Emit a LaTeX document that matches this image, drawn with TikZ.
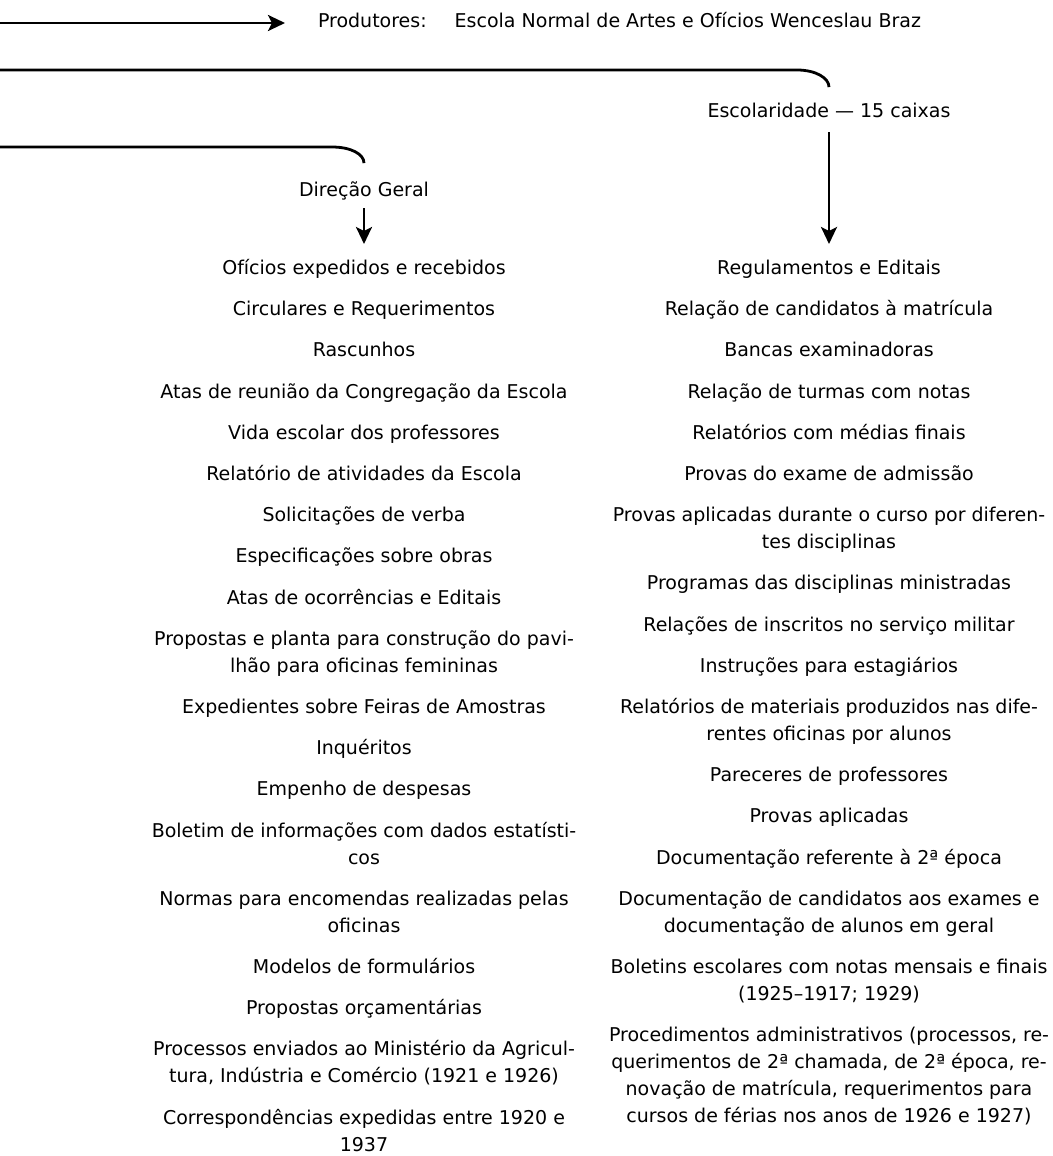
\documentclass[tikz,border=0pt]{standalone}
\usepackage{fontspec}
\setmainfont{DejaVu Sans}
\usetikzlibrary{arrows.meta,positioning}

\begin{document}
\begin{tikzpicture}[x=1pt,y=-1pt,
  conn/.style={line width=2.8pt,draw=black},
  arr/.style={conn,-{Stealth[length=17pt,width=16pt,inset=4pt]}},
  txt/.style={inner sep=0pt,outer sep=0pt,text=black,font=\fontsize{19}{27}\selectfont},
  item/.style={txt,anchor=north,align=center},
  head/.style={txt,anchor=base},
  gap/.style={below=14.2pt of #1},
]
\useasboundingbox (0,0) rectangle (1052,1156);

% headers
\node[head,anchor=base west] (prod) at (318,28)
  {\strut Produtores:\hspace{28pt}Escola Normal de Artes e Ofícios Wenceslau Braz};
\node[head] (esc) at (829,117) {\strut Escolaridade — 15 caixas};
\node[head] (dir) at (364,196.5) {\strut Direção Geral};

% Direção Geral column
\node[item] (l1) at (364,255.5) {\strut Ofícios expedidos e recebidos};
\node[item,gap=l1] (l2) {\strut Circulares e Requerimentos};
\node[item,gap=l2] (l3) {\strut Rascunhos};
\node[item,gap=l3] (l4) {\strut Atas de reunião da Congregação da Escola};
\node[item,gap=l4] (l5) {\strut Vida escolar dos professores};
\node[item,gap=l5] (l6) {\strut Relatório de atividades da Escola};
\node[item,gap=l6] (l7) {\strut Solicitações de verba};
\node[item,gap=l7] (l8) {\strut Especificações sobre obras};
\node[item,gap=l8] (l9) {\strut Atas de ocorrências e Editais};
\node[item,gap=l9] (l10) {\strut Propostas e planta para construção do pavi-\\\strut lhão para oficinas femininas};
\node[item,gap=l10] (l11) {\strut Expedientes sobre Feiras de Amostras};
\node[item,gap=l11] (l12) {\strut Inquéritos};
\node[item,gap=l12] (l13) {\strut Empenho de despesas};
\node[item,gap=l13] (l14) {\strut Boletim de informações com dados estatísti-\\\strut cos};
\node[item,gap=l14] (l15) {\strut Normas para encomendas realizadas pelas\\\strut oficinas};
\node[item,gap=l15] (l16) {\strut Modelos de formulários};
\node[item,gap=l16] (l17) {\strut Propostas orçamentárias};
\node[item,gap=l17] (l18) {\strut Processos enviados ao Ministério da Agricul-\\\strut tura, Indústria e Comércio (1921 e 1926)};
\node[item,gap=l18] (l19) {\strut Correspondências expedidas entre 1920 e\\1937};

% Escolaridade column
\node[item] (r1) at (829,255.5) {\strut Regulamentos e Editais};
\node[item,gap=r1] (r2) {\strut Relação de candidatos à matrícula};
\node[item,gap=r2] (r3) {\strut Bancas examinadoras};
\node[item,gap=r3] (r4) {\strut Relação de turmas com notas};
\node[item,gap=r4] (r5) {\strut Relatórios com médias finais};
\node[item,gap=r5] (r6) {\strut Provas do exame de admissão};
\node[item,gap=r6] (r7) {\strut Provas aplicadas durante o curso por diferen-\\\strut tes disciplinas};
\node[item,gap=r7] (r8) {\strut Programas das disciplinas ministradas};
\node[item,gap=r8] (r9) {\strut Relações de inscritos no serviço militar};
\node[item,gap=r9] (r10) {\strut Instruções para estagiários};
\node[item,gap=r10] (r11) {\strut Relatórios de materiais produzidos nas dife-\\\strut rentes oficinas por alunos};
\node[item,gap=r11] (r12) {\strut Pareceres de professores};
\node[item,gap=r12] (r13) {\strut Provas aplicadas};
\node[item,gap=r13] (r14) {\strut Documentação referente à 2ª época};
\node[item,gap=r14] (r15) {\strut Documentação de candidatos aos exames e\\\strut documentação de alunos em geral};
\node[item,gap=r15] (r16) {\strut Boletins escolares com notas mensais e finais\\\strut (1925–1917; 1929)};
\node[item,gap=r16] (r17) {\strut Procedimentos administrativos (processos, re-\\\strut querimentos de 2ª chamada, de 2ª época, re-\\\strut novação de matrícula, requerimentos para\\\strut cursos de férias nos anos de 1926 e 1927)};

% incoming lines from the left edge
\coordinate (topstart) at (0,23);
\coordinate (midstart) at (0,70);
\coordinate (lowstart) at (0,147);
\coordinate (escin) at ([yshift=11pt]esc.north);
\coordinate (dirin) at ([yshift=14.5pt]dir.north);
\coordinate (escturn) at (escin |- midstart);
\coordinate (dirturn) at (dirin |- lowstart);

\draw[arr,shorten >=33pt] (topstart) -- (topstart -| prod.west);

\draw[conn] (midstart) -- ([xshift=-32pt]escturn)
  .. controls ([xshift=-13pt]escturn) and ([yshift=9pt]escin) .. (escin);
\draw[conn] (lowstart) -- ([xshift=-32pt]dirturn)
  .. controls ([xshift=-13pt]dirturn) and ([yshift=9pt]dirin) .. (dirin);

% arrows down to the item lists
\draw[arr,shorten <=7pt,shorten >=11.5pt] (esc.south) -- (esc.south |- r1.north);
\draw[arr,shorten <=3.4pt,shorten >=11.5pt] (dir.south) -- (dir.south |- l1.north);
\end{tikzpicture}
\end{document}
